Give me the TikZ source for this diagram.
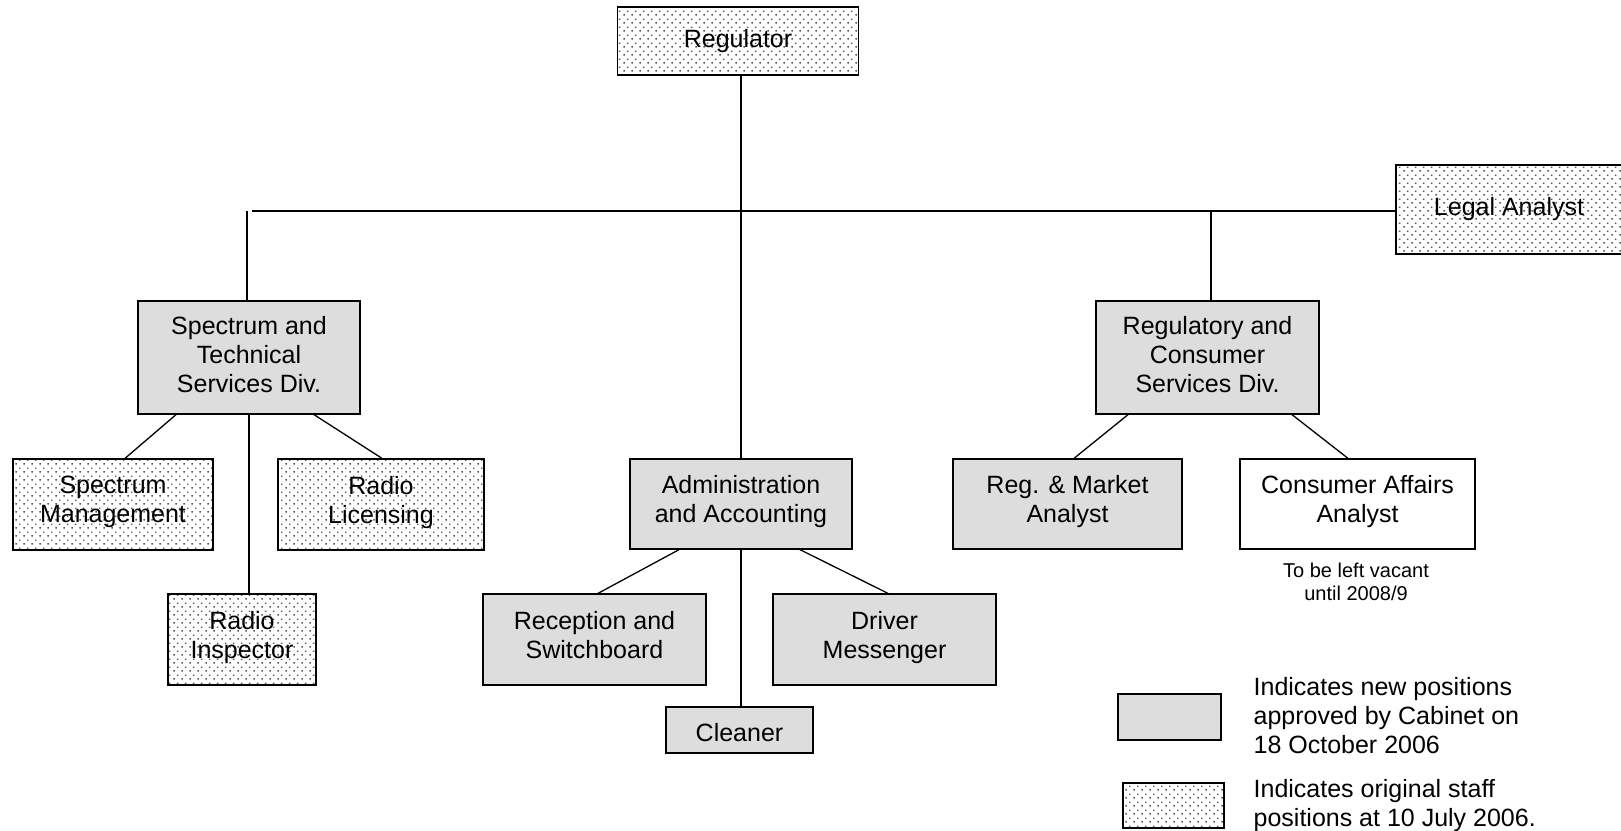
\documentclass[tikz,border=0pt]{standalone}
\usepackage{fontspec}
\setmainfont{Liberation Sans}
\usetikzlibrary{patterns.meta}
\definecolor{newcolor}{RGB}{221,221,221}
\definecolor{dotcolor}{RGB}{85,85,85}
\newcommand\boxstrut{\rule[-10pt]{0pt}{29pt}}
\newcommand\tallstrut{\rule[-7pt]{0pt}{29pt}}
\newcommand\onestrut{\rule[-3pt]{0pt}{28pt}}

% sparse dots for the original staff positions
\tikzdeclarepattern{
  name=staffdots,
  type=colored,
  bounding box={(0pt,0pt) and (7.5pt,7.5pt)},
  tile size={(7.5pt,7.5pt)},
  code={
    \fill[dotcolor] (0.5pt,0.5pt) rectangle (2pt,2pt);
    \fill[dotcolor] (4.25pt,4.25pt) rectangle (5.75pt,5.75pt);
  }
}

\begin{document}
\begin{tikzpicture}[x=1pt, y=-1pt, line width=1.3pt,
    post/.style={draw, align=center, inner sep=0pt, font=\fontsize{25}{29}\selectfont},
    newpost/.style={post, fill=newcolor},
    oldpost/.style={post, pattern=staffdots},
    vacpost/.style={post, fill=white},
    lines/.style={execute at begin node=\boxstrut, execute at end node=\boxstrut},
    tlines/.style={execute at begin node=\tallstrut, execute at end node=\tallstrut},
    note/.style={inner sep=0pt, align=left, font=\fontsize{25}{29}\selectfont}]
    \useasboundingbox (0,0) rectangle (1621,830);

    % Top level
    \node[oldpost, minimum width=241pt, minimum height=68pt] (reg) at (738,41) {Regulator};
    \node[oldpost, minimum width=226pt, minimum height=89pt] (legal) at (1509,209.5) {Legal Analyst};
    \coordinate (barL) at (252,211);

    % Spectrum and Technical Services
    \node[newpost, tlines, minimum width=222pt, minimum height=113pt] (stech) at (249,357.5) {Spectrum and\\Technical\\Services Div.};
    \node[oldpost, lines, minimum width=200pt, minimum height=91pt] (smgmt) at (113,504.5) {Spectrum\\Management};
    \node[oldpost, lines, minimum width=206pt, minimum height=91pt] (rlic) at (381,504.5) {Radio\\Licensing};
    \node[oldpost, lines, minimum width=148pt, minimum height=91pt] (rinsp) at (242,639.5) {Radio\\Inspector};

    % Administration and Accounting
    \node[newpost, lines, minimum width=222pt, minimum height=90pt] (admin) at (741,504) {Administration\\and Accounting};
    \node[newpost, lines, minimum width=223pt, minimum height=91pt] (recep) at (594.5,639.5) {Reception and\\Switchboard};
    \node[newpost, lines, minimum width=223pt, minimum height=91pt] (driver) at (884.5,639.5) {Driver\\Messenger};
    \node[newpost, execute at begin node=\onestrut, minimum width=147pt, minimum height=46pt] (cleaner) at (739.5,730) {Cleaner};

    % Regulatory and Consumer Services
    \node[newpost, tlines, minimum width=223pt, minimum height=113pt] (regcs) at (1207.5,357.5) {Regulatory and\\Consumer\\Services Div.};
    \node[newpost, lines, minimum width=229pt, minimum height=90pt] (regm) at (1067.5,504) {Reg. \& Market\\Analyst};
    \node[vacpost, lines, minimum width=235pt, minimum height=90pt] (cons) at (1357.5,504) {Consumer Affairs\\Analyst};
    \node[inner sep=0pt, anchor=north, align=center, font=\fontsize{20}{23}\selectfont] (vacnote) at (1356,562) {To be left vacant\\until 2008/9};

    % Key
    \node[newpost, minimum width=103pt, minimum height=46pt] (keynew) at (1169.5,717) {};
    \node[note, anchor=north west] (keynewtxt) at (1253,677) {Indicates new positions\\approved by Cabinet on\\18 October 2006};
    \node[oldpost, minimum width=101pt, minimum height=45pt] (keyold) at (1173.5,805.5) {};
    \node[note, anchor=north west] (keyoldtxt) at (1253,778.5) {Indicates original staff\\positions at 10 July 2006.};

    % Reporting lines
    \draw (barL) -- (barL -| legal.west);
    \draw ([xshift=-2pt]stech.north) -- ([xshift=-2pt]stech.north |- barL);
    \draw (admin.north |- reg.south) -- (admin.north);
    \draw ([xshift=3.5pt]regcs.north) -- ([xshift=3.5pt]regcs.north |- barL);

    \draw ([xshift=-73pt]stech.south) -- ([xshift=12pt]smgmt.north);
    \draw ([xshift=65pt]stech.south) -- ([xshift=1pt]rlic.north);
    \draw (stech.south) -- (stech.south |- rinsp.north);

    \draw ([xshift=-62pt]admin.south) -- ([xshift=3.5pt]recep.north);
    \draw ([xshift=59pt]admin.south) -- ([xshift=3.5pt]driver.north);
    \draw (admin.south) -- (admin.south |- cleaner.north);

    \draw ([xshift=-79.5pt]regcs.south) -- ([xshift=6.5pt]regm.north);
    \draw ([xshift=84.5pt]regcs.south) -- ([xshift=-9.5pt]cons.north);
\end{tikzpicture}
\end{document}
